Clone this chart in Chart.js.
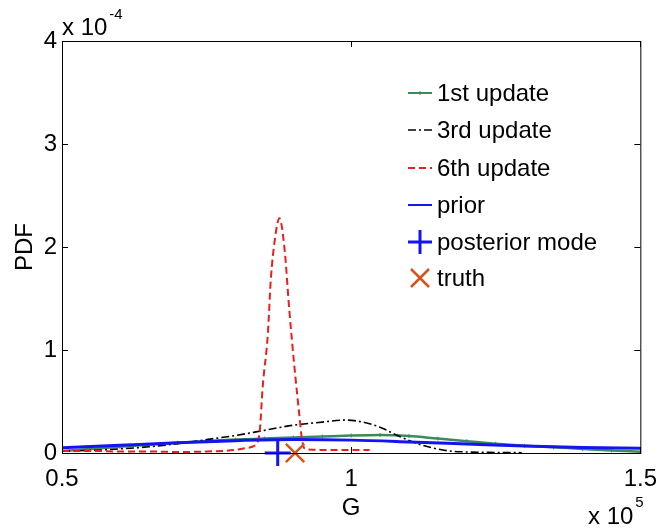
<!DOCTYPE html>
<html>
<head>
<meta charset="utf-8">
<script src="https://cdn.jsdelivr.net/npm/chart.js@4"></script>
<style>
  body { margin: 0; background: #fff; }
  canvas { display: block; }
</style>
</head>
<body>
<canvas id="pdfChart" width="669" height="530"></canvas>
<script>
// G in units of 1e5, PDF in units of 1e-4 (the axis multipliers are drawn separately)
const gFirst = [0.50, 0.55, 0.60, 0.65, 0.70, 0.75, 0.80, 0.85, 0.90, 0.95, 1.00, 1.05, 1.10, 1.15, 1.20, 1.25, 1.30, 1.35, 1.40, 1.45, 1.50];
const pdfFirst = [0.02, 0.04, 0.06, 0.08, 0.10, 0.115, 0.13, 0.14, 0.15, 0.16, 0.17, 0.175, 0.165, 0.14, 0.115, 0.09, 0.07, 0.055, 0.04, 0.025, 0.012];

const gThird = [0.50, 0.55, 0.60, 0.65, 0.70, 0.75, 0.80, 0.85, 0.90, 0.95, 0.99, 1.02, 1.05, 1.08, 1.11, 1.14, 1.17, 1.20, 1.25, 1.295];
const pdfThird = [0.02, 0.025, 0.04, 0.06, 0.09, 0.13, 0.17, 0.22, 0.27, 0.30, 0.32, 0.30, 0.25, 0.17, 0.10, 0.05, 0.02, 0.01, 0.005, 0.003];

const gSixth = [0.50, 0.55, 0.60, 0.65, 0.70, 0.75, 0.80, 0.82, 0.835, 0.842, 0.847, 0.856, 0.861, 0.868, 0.876, 0.885, 0.893, 0.902, 0.910, 0.915, 0.920, 0.95, 1.00, 1.032];
const pdfSixth = [0.02, 0.02, 0.015, 0.015, 0.01, 0.015, 0.03, 0.05, 0.08, 0.22, 0.64, 1.16, 1.68, 2.07, 2.28, 1.97, 1.39, 0.83, 0.39, 0.13, 0.04, 0.03, 0.03, 0.03];

const gPrior = [0.5, 0.6, 0.7, 0.8, 0.9, 1.0, 1.1, 1.2, 1.3, 1.4, 1.5];
const pdfPrior = [0.05, 0.075, 0.10, 0.12, 0.13, 0.125, 0.108, 0.088, 0.068, 0.053, 0.045];

const gMode = [0.873];
const gTruth = [0.903];

const xTicks = [0.5, 1, 1.5];
const xTickLabels = ['0.5', '1', '1.5'];
const yTicks = [0, 1, 2, 3, 4];
const yTickLabels = ['0', '1', '2', '3', '4'];

const FONT = '"Liberation Sans", Arial, Helvetica, sans-serif';
const FS = 24;

function pts(xs, ys) {
    return xs.map((x, i) => ({ x: x, y: ys[i] }));
}

// box around the axes with inward ticks, like matlab
const axesBox = {
    id: 'axesBox',
    afterDraw(chart) {
        const { ctx, chartArea: a, scales } = chart;
        ctx.save();
        ctx.strokeStyle = '#000';
        ctx.lineWidth = 1;
        ctx.strokeRect(a.left + 0.5, a.top + 0.5, a.right - a.left, a.bottom - a.top);
        const len = 6;
        ctx.beginPath();
        xTicks.forEach(v => {
            const x = Math.round(scales.x.getPixelForValue(v)) + 0.5;
            ctx.moveTo(x, a.bottom); ctx.lineTo(x, a.bottom - len);
            ctx.moveTo(x, a.top); ctx.lineTo(x, a.top + len);
        });
        yTicks.forEach(v => {
            const y = Math.round(scales.y.getPixelForValue(v)) + 0.5;
            ctx.moveTo(a.left, y); ctx.lineTo(a.left + len, y);
            ctx.moveTo(a.right, y); ctx.lineTo(a.right - len, y);
        });
        ctx.stroke();

        // axis multipliers
        ctx.fillStyle = '#000';
        ctx.textBaseline = 'middle';
        ctx.textAlign = 'left';
        ctx.font = FS + 'px ' + FONT;
        ctx.fillText('x 10', a.left, 28);
        let w = ctx.measureText('x 10').width;
        ctx.font = '15px ' + FONT;
        ctx.fillText('-4', a.left + w + 2, 15);
        ctx.font = FS + 'px ' + FONT;
        ctx.fillText('x 10', 588, 517);
        w = ctx.measureText('x 10').width;
        ctx.font = '15px ' + FONT;
        ctx.fillText('5', 588 + w + 2, 503);
        ctx.restore();
    }
};

// legend inside the axes
const innerLegend = {
    id: 'innerLegend',
    afterDraw(chart) {
        const ctx = chart.ctx;
        const rowsY = [93, 130, 168, 205, 242, 278];
        const x0 = 408, x1 = 432;
        ctx.save();
        chart.data.datasets.forEach((ds, i) => {
            const y = rowsY[i];
            ctx.strokeStyle = ds.borderColor;
            if (ds.showLine === false) {
                ctx.lineWidth = ds.borderWidth;
                ctx.setLineDash([]);
                ctx.beginPath();
                const cx = (x0 + x1) / 2, r = ds.legendSize;
                if (ds.pointStyle === 'cross') {
                    ctx.moveTo(cx - r, y); ctx.lineTo(cx + r, y);
                    ctx.moveTo(cx, y - r); ctx.lineTo(cx, y + r);
                } else {
                    ctx.moveTo(cx - r, y - r); ctx.lineTo(cx + r, y + r);
                    ctx.moveTo(cx - r, y + r); ctx.lineTo(cx + r, y - r);
                }
                ctx.stroke();
            } else {
                ctx.lineWidth = Math.min(ds.borderWidth, 2);
                ctx.setLineDash(ds.borderDash || []);
                ctx.beginPath();
                ctx.moveTo(x0, y); ctx.lineTo(x1, y);
                ctx.stroke();
                if (ds.pointRadius > 0) {
                    ctx.setLineDash([]);
                    ctx.lineWidth = 1;
                    const cx = (x0 + x1) / 2;
                    ctx.beginPath();
                    ctx.moveTo(cx - 2, y); ctx.lineTo(cx + 2, y);
                    ctx.moveTo(cx, y - 2); ctx.lineTo(cx, y + 2);
                    ctx.stroke();
                }
            }
            ctx.fillStyle = '#000';
            ctx.font = FS + 'px ' + FONT;
            ctx.textBaseline = 'middle';
            ctx.fillText(ds.label, x1 + 5, y + 1);
        });
        ctx.restore();
    }
};

new Chart(document.getElementById('pdfChart'), {
    type: 'scatter',
    data: {
        datasets: [
            {
                label: '1st update',
                data: pts(gFirst, pdfFirst),
                showLine: true,
                borderColor: '#3a8a5c',
                borderWidth: 2.5,
                pointStyle: 'cross',
                pointRadius: 2,
                pointBorderWidth: 1,
                cubicInterpolationMode: 'monotone',
                order: 6
            },
            {
                label: '3rd update',
                data: pts(gThird, pdfThird),
                showLine: true,
                borderColor: '#000000',
                borderWidth: 1.6,
                borderDash: [8, 3, 2, 3],
                pointRadius: 0,
                cubicInterpolationMode: 'monotone',
                order: 5
            },
            {
                label: '6th update',
                data: pts(gSixth, pdfSixth),
                showLine: true,
                borderColor: '#ee1c1c',
                borderWidth: 2,
                borderDash: [7, 4],
                pointRadius: 0,
                cubicInterpolationMode: 'monotone',
                order: 4
            },
            {
                label: 'prior',
                data: pts(gPrior, pdfPrior),
                showLine: true,
                borderColor: '#1414f0',
                borderWidth: 3,
                pointRadius: 0,
                cubicInterpolationMode: 'monotone',
                order: 3
            },
            {
                label: 'posterior mode',
                data: gMode.map(x => ({ x: x, y: 0 })),
                showLine: false,
                borderColor: '#1414f0',
                backgroundColor: '#1414f0',
                pointStyle: 'cross',
                pointRadius: 13,
                borderWidth: 3,
                legendSize: 12,
                clip: false,
                order: 2
            },
            {
                label: 'truth',
                data: gTruth.map(x => ({ x: x, y: 0 })),
                showLine: false,
                borderColor: '#d9541a',
                backgroundColor: '#d9541a',
                pointStyle: 'crossRot',
                pointRadius: 13,
                borderWidth: 2.5,
                legendSize: 9,
                clip: false,
                order: 1
            }
        ]
    },
    options: {
        responsive: false,
        animation: false,
        layout: { padding: { top: 41, right: 22, left: 0, bottom: 0 } },
        plugins: {
            legend: { display: false },
            tooltip: { enabled: false }
        },
        scales: {
            x: {
                type: 'linear',
                min: 0.5,
                max: 1.5,
                afterFit: s => { s.height = 77; },
                afterBuildTicks: s => { s.ticks = xTicks.map(v => ({ value: v })); },
                grid: { display: false, drawTicks: false },
                border: { display: false },
                ticks: {
                    color: '#000', padding: 12, font: { family: FONT, size: FS }, maxRotation: 0,
                    callback: (v, i) => xTickLabels[i]
                },
                title: { display: true, text: 'G', color: '#000', padding: { bottom: 7 }, font: { family: FONT, size: FS } }
            },
            y: {
                min: 0,
                max: 4,
                afterFit: s => { s.width = 62; },
                afterBuildTicks: s => { s.ticks = yTicks.map(v => ({ value: v })); },
                grid: { display: false, drawTicks: false },
                border: { display: false },
                ticks: {
                    color: '#000', padding: 5, font: { family: FONT, size: FS },
                    callback: (v, i) => yTickLabels[i]
                },
                title: { display: true, text: 'PDF', color: '#000', padding: { top: 11 }, font: { family: FONT, size: FS } }
            }
        }
    },
    plugins: [axesBox, innerLegend]
});
</script>
</body>
</html>
